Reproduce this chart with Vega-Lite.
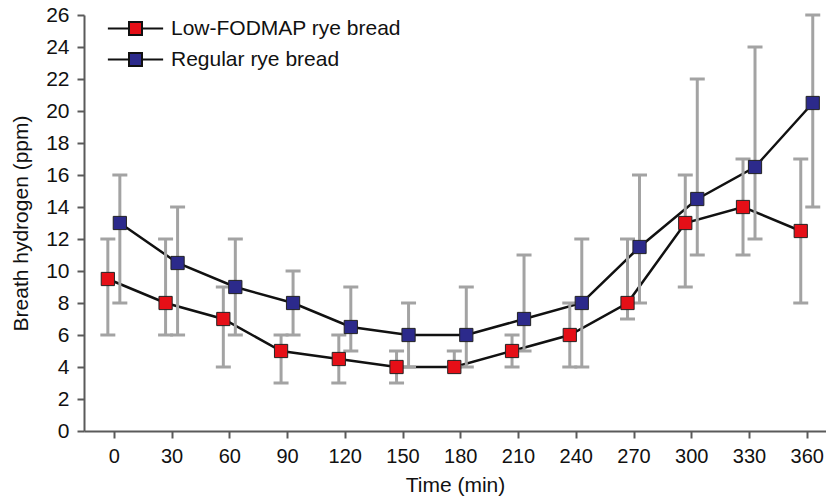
{
  "$schema": "https://vega.github.io/schema/vega-lite/v6.json",
  "autosize": {"type": "none"},
  "width": 742,
  "height": 416,
  "padding": {"left": 84, "top": 15, "right": 0, "bottom": 67},
  "background": "white",
  "config": {
    "view": {"stroke": null},
    "font": "Liberation Sans",
    "axis": {
      "grid": false,
      "domainColor": "#5a5a5a",
      "domainWidth": 2,
      "tickColor": "#5a5a5a",
      "tickWidth": 2,
      "tickSize": 7,
      "labelFont": "Liberation Sans",
      "labelFontSize": 21,
      "labelColor": "#111",
      "labelOverlap": false,
      "titleFont": "Liberation Sans",
      "titleFontSize": 21,
      "titleFontWeight": "normal",
      "titleColor": "#111"
    },
    "legend": {
      "orient": "none", "legendX": 41, "legendY": 3, "title": null,
      "symbolType": "M-4.25,0H-1M1,0H4.25M-1,-1H1V1H-1Z",
      "symbolSize": 169, "symbolStrokeColor": "#111", "symbolStrokeWidth": 2, "symbolOpacity": 1,
      "labelFontSize": 21, "labelFont": "Liberation Sans", "labelColor": "#111", "labelLimit": 400,
      "labelOffset": 25, "rowPadding": 9
    }
  },
  "data": {
    "values": [
      {"time": 0, "series": "Low-FODMAP rye bread", "mean": 9.5, "lo": 6, "hi": 12},
      {"time": 30, "series": "Low-FODMAP rye bread", "mean": 8, "lo": 6, "hi": 12},
      {"time": 60, "series": "Low-FODMAP rye bread", "mean": 7, "lo": 4, "hi": 9},
      {"time": 90, "series": "Low-FODMAP rye bread", "mean": 5, "lo": 3, "hi": 6},
      {"time": 120, "series": "Low-FODMAP rye bread", "mean": 4.5, "lo": 3, "hi": 6},
      {"time": 150, "series": "Low-FODMAP rye bread", "mean": 4, "lo": 3, "hi": 5},
      {"time": 180, "series": "Low-FODMAP rye bread", "mean": 4, "lo": 4, "hi": 5},
      {"time": 210, "series": "Low-FODMAP rye bread", "mean": 5, "lo": 4, "hi": 6},
      {"time": 240, "series": "Low-FODMAP rye bread", "mean": 6, "lo": 4, "hi": 8},
      {"time": 270, "series": "Low-FODMAP rye bread", "mean": 8, "lo": 7, "hi": 12},
      {"time": 300, "series": "Low-FODMAP rye bread", "mean": 13, "lo": 9, "hi": 16},
      {"time": 330, "series": "Low-FODMAP rye bread", "mean": 14, "lo": 11, "hi": 17},
      {"time": 360, "series": "Low-FODMAP rye bread", "mean": 12.5, "lo": 8, "hi": 17},
      {"time": 0, "series": "Regular rye bread", "mean": 13, "lo": 8, "hi": 16},
      {"time": 30, "series": "Regular rye bread", "mean": 10.5, "lo": 6, "hi": 14},
      {"time": 60, "series": "Regular rye bread", "mean": 9, "lo": 6, "hi": 12},
      {"time": 90, "series": "Regular rye bread", "mean": 8, "lo": 6, "hi": 10},
      {"time": 120, "series": "Regular rye bread", "mean": 6.5, "lo": 5, "hi": 9},
      {"time": 150, "series": "Regular rye bread", "mean": 6, "lo": 4, "hi": 8},
      {"time": 180, "series": "Regular rye bread", "mean": 6, "lo": 4, "hi": 9},
      {"time": 210, "series": "Regular rye bread", "mean": 7, "lo": 5, "hi": 11},
      {"time": 240, "series": "Regular rye bread", "mean": 8, "lo": 4, "hi": 12},
      {"time": 270, "series": "Regular rye bread", "mean": 11.5, "lo": 8, "hi": 16},
      {"time": 300, "series": "Regular rye bread", "mean": 14.5, "lo": 11, "hi": 22},
      {"time": 330, "series": "Regular rye bread", "mean": 16.5, "lo": 12, "hi": 24},
      {"time": 360, "series": "Regular rye bread", "mean": 20.5, "lo": 14, "hi": 26}
    ]
  },
  "encoding": {
    "x": {
      "field": "time", "type": "quantitative",
      "scale": {"domain": [-15.5, 370], "nice": false, "zero": false},
      "axis": {"values": [0, 30, 60, 90, 120, 150, 180, 210, 240, 270, 300, 330, 360], "title": "Time (min)", "labelFontSize": 20, "labelPadding": 8, "titlePadding": 8, "labelFlush": false}
    },
    "y": {
      "field": "mean", "type": "quantitative",
      "scale": {"domain": [0, 26], "nice": false},
      "axis": {"values": [0, 2, 4, 6, 8, 10, 12, 14, 16, 18, 20, 22, 24, 26], "title": "Breath hydrogen (ppm)", "labelPadding": 8, "titlePadding": 14}
    }
  },
  "layer": [
    {
      "transform": [{"filter": "datum.series == 'Low-FODMAP rye bread'"}],
      "mark": {"type": "line", "color": "#111", "strokeWidth": 2.5, "xOffset": -6}
    },
    {
      "transform": [{"filter": "datum.series == 'Regular rye bread'"}],
      "mark": {"type": "line", "color": "#111", "strokeWidth": 2.5, "xOffset": 6}
    },
    {
      "transform": [{"filter": "datum.series == 'Low-FODMAP rye bread'"}],
      "mark": {"type": "rule", "color": "#a3a3a3", "strokeWidth": 3, "xOffset": -6},
      "encoding": {"y": {"field": "lo", "type": "quantitative"}, "y2": {"field": "hi"}}
    },
    {
      "transform": [{"filter": "datum.series == 'Regular rye bread'"}],
      "mark": {"type": "rule", "color": "#a3a3a3", "strokeWidth": 3, "xOffset": 6},
      "encoding": {"y": {"field": "lo", "type": "quantitative"}, "y2": {"field": "hi"}}
    },
    {
      "transform": [{"filter": "datum.series == 'Low-FODMAP rye bread'"}],
      "mark": {"type": "tick", "orient": "horizontal", "color": "#a3a3a3", "size": 15, "thickness": 3, "opacity": 1, "xOffset": -6},
      "encoding": {"y": {"field": "lo", "type": "quantitative"}}
    },
    {
      "transform": [{"filter": "datum.series == 'Low-FODMAP rye bread'"}],
      "mark": {"type": "tick", "orient": "horizontal", "color": "#a3a3a3", "size": 15, "thickness": 3, "opacity": 1, "xOffset": -6},
      "encoding": {"y": {"field": "hi", "type": "quantitative"}}
    },
    {
      "transform": [{"filter": "datum.series == 'Regular rye bread'"}],
      "mark": {"type": "tick", "orient": "horizontal", "color": "#a3a3a3", "size": 15, "thickness": 3, "opacity": 1, "xOffset": 6},
      "encoding": {"y": {"field": "lo", "type": "quantitative"}}
    },
    {
      "transform": [{"filter": "datum.series == 'Regular rye bread'"}],
      "mark": {"type": "tick", "orient": "horizontal", "color": "#a3a3a3", "size": 15, "thickness": 3, "opacity": 1, "xOffset": 6},
      "encoding": {"y": {"field": "hi", "type": "quantitative"}}
    },
    {
      "transform": [{"filter": "datum.series == 'Low-FODMAP rye bread'"}],
      "mark": {"type": "point", "shape": "square", "filled": true, "size": 175, "stroke": "#222", "strokeWidth": 1, "opacity": 1, "xOffset": -6},
      "encoding": {
        "fill": {"field": "series", "type": "nominal", "title": null, "scale": {"domain": ["Low-FODMAP rye bread", "Regular rye bread"], "range": ["#e50f17", "#2c2a8b"]}}
      }
    },
    {
      "transform": [{"filter": "datum.series == 'Regular rye bread'"}],
      "mark": {"type": "point", "shape": "square", "filled": true, "size": 175, "stroke": "#222", "strokeWidth": 1, "opacity": 1, "xOffset": 6},
      "encoding": {
        "fill": {"field": "series", "type": "nominal", "title": null}
      }
    }
  ]
}
